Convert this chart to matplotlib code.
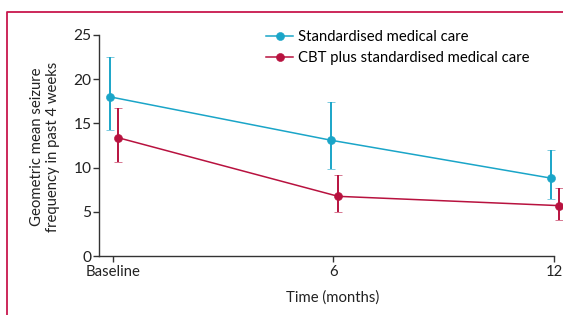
import matplotlib
matplotlib.use('Agg')
import matplotlib.pyplot as plt
from matplotlib.lines import Line2D

plt.rcParams['font.family'] = ['Lato', 'DejaVu Sans']
plt.rcParams['font.size'] = 10.7

# data
time_points = [0, 6, 12]
tick_labels = ['Baseline', '6', '12']
series_names = ['Standardised medical care', 'CBT plus standardised medical care']

smc_mean = [18.0, 13.1, 8.8]
smc_upper = [22.5, 17.4, 12.0]
smc_lower = [14.3, 9.8, 6.5]

cbt_mean = [13.4, 6.75, 5.7]
cbt_upper = [16.7, 9.2, 7.7]
cbt_lower = [10.6, 5.0, 4.1]

CYAN = '#1aa5c8'
CRIMSON = '#b8123f'
AXIS_COL = '#333333'

fig = plt.figure(figsize=(5.63, 3.15), dpi=100)
ax = fig.add_axes([99 / 563, 1 - 256 / 315, 455 / 563, 221 / 315])


def draw_series(mean, lower, upper, offset, color):
    xs = [t + offset for t in time_points]
    yerr = [[m - lo for m, lo in zip(mean, lower)], [hi - m for m, hi in zip(mean, upper)]]
    ax.plot(xs, mean, color=color, lw=1.1, clip_on=False, zorder=3)
    ax.errorbar(xs, mean, yerr=yerr, fmt='o', color=color, ms=5.8, mew=0.4, elinewidth=1.4,
                capsize=3.2, capthick=1.4, clip_on=False, zorder=4)


draw_series(smc_mean, smc_lower, smc_upper, -0.07, CYAN)
draw_series(cbt_mean, cbt_lower, cbt_upper, 0.13, CRIMSON)

ax.set_xlim(-0.374, 12)
ax.set_ylim(0, 25)
ax.set_xticks(time_points)
ax.set_xticklabels(tick_labels)
ax.set_yticks([0, 5, 10, 15, 20, 25])

for side in ['top', 'right']:
    ax.spines[side].set_visible(False)
for side in ['left', 'bottom']:
    ax.spines[side].set_color(AXIS_COL)
    ax.spines[side].set_linewidth(1.0)
ax.tick_params(direction='out', length=4.3, width=1.0, color=AXIS_COL, labelcolor='#222222')
ax.tick_params(axis='y', pad=1, labelsize=11.2)
ax.tick_params(axis='x', pad=2.5)

fig.text(333 / 563, 1 - 298 / 315, 'Time (months)', ha='center', va='center', color='#222222')
fig.text(45 / 563, 1 - 147 / 315, 'Geometric mean seizure\nfrequency in past 4 weeks',
         rotation=90, ha='center', va='center', linespacing=1.1, color='#222222')

handles = [Line2D([], [], color=CYAN, lw=1.1, marker='o', ms=5.8, mew=0.4),
           Line2D([], [], color=CRIMSON, lw=1.1, marker='o', ms=5.8, mew=0.4)]
fig.legend(handles, series_names, loc='upper left', bbox_to_anchor=(266 / 563, 1 - 30 / 315),
           frameon=False, borderpad=0, borderaxespad=0, handlelength=1.85,
           handletextpad=0.33, labelspacing=0.5)

# border of the panel
fig.add_artist(Line2D([6.5 / 563, 6.5 / 563, 1.0], [0, 1 - 12 / 315, 1 - 12 / 315],
                      transform=fig.transFigure, color='#c8174d', lw=1.3))

fig.savefig('out.png', dpi=100)
